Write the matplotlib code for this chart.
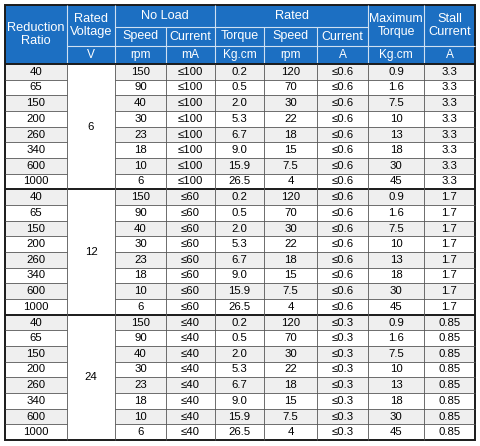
import matplotlib
matplotlib.use("Agg")
import matplotlib.pyplot as plt
from matplotlib.patches import Rectangle

ratios = ["40", "65", "150", "200", "260", "340", "600", "1000"]
voltages = ["6", "12", "24"]
noload_speed = ["150", "90", "40", "30", "23", "18", "10", "6"]
noload_current = {"6": "≤100", "12": "≤60", "24": "≤40"}
rated_torque = ["0.2", "0.5", "2.0", "5.3", "6.7", "9.0", "15.9", "26.5"]
rated_speed = ["120", "70", "30", "22", "18", "15", "7.5", "4"]
rated_current = {"6": "≤0.6", "12": "≤0.6", "24": "≤0.3"}
max_torque = ["0.9", "1.6", "7.5", "10", "13", "18", "30", "45"]
stall_current = {"6": "3.3", "12": "1.7", "24": "0.85"}

W, H = 480, 446
BLUE = "#1c6fc2"
LINE = "#1a1a1a"
cols = [5, 67, 115, 166, 215, 264, 317, 368, 424, 475]
h0, h1, h2, h3 = 5, 27, 46, 64
bottom = 440
rh = (bottom - h3) / 24

fig = plt.figure(figsize=(W / 100, H / 100), dpi=100)
ax = fig.add_axes([0, 0, 1, 1])
ax.set_xlim(0, W)
ax.set_ylim(H, 0)
ax.axis("off")

# header background
ax.add_patch(Rectangle((cols[0], h0), cols[-1] - cols[0], h3 - h0, facecolor=BLUE, edgecolor="none"))


def cell_text(x0, x1, y0, y1, s, color="black", size=8.2):
    ax.text((x0 + x1) / 2, (y0 + y1) / 2, s, ha="center", va="center", color=color,
            fontsize=size, family="Liberation Sans", linespacing=1.15)


def hline(x0, x1, y, c, lw=0.8):
    ax.plot([x0, x1], [y, y], color=c, lw=lw, solid_capstyle="butt")


def vline(x, y0, y1, c, lw=0.8):
    ax.plot([x, x], [y0, y1], color=c, lw=lw, solid_capstyle="butt")


# header texts
wc = "white"
cell_text(cols[0], cols[1], h0, h3, "Reduction\nRatio", wc, 9.2)
cell_text(cols[1], cols[2], h0, h2, "Rated\nVoltage", wc, 9.2)
cell_text(cols[2], cols[4], h0, h1, "No Load", wc, 9.2)
cell_text(cols[4], cols[7], h0, h1, "Rated", wc, 9.2)
cell_text(cols[7], cols[8], h0, h2, "Maximum\nTorque", wc, 8.8)
cell_text(cols[8], cols[9], h0, h2, "Stall\nCurrent", wc, 9.2)
subs = ["Speed", "Current", "Torque", "Speed", "Current"]
for i, s in enumerate(subs):
    cell_text(cols[i + 2], cols[i + 3], h1, h2, s, wc, 9.0)
units = ["V", "rpm", "mA", "Kg.cm", "rpm", "A", "Kg.cm", "A"]
for i, s in enumerate(units):
    cell_text(cols[i + 1], cols[i + 2], h2, h3, s, wc, 8.6)

# header inner lines (white-ish)
hl = "#cfe0f2"
hline(cols[2], cols[7], h1, hl)
hline(cols[1], cols[9], h2, hl)
for i in range(1, 9):
    top = h0 if i in (1, 2, 4, 7, 8) else h1
    vline(cols[i], top, h3, hl)

# data rows
for g, v in enumerate(voltages):
    for r in range(8):
        y0 = h3 + (g * 8 + r) * rh
        y1 = y0 + rh
        bg = "#efefef" if r % 2 == 0 else "white"
        for c in range(9):
            if c == 1:
                continue
            ax.add_patch(Rectangle((cols[c], y0), cols[c + 1] - cols[c], rh, facecolor=bg, edgecolor="none"))
        vals = [ratios[r], None, noload_speed[r], noload_current[v], rated_torque[r],
                rated_speed[r], rated_current[v], max_torque[r], stall_current[v]]
        for c, s in enumerate(vals):
            if s is not None:
                cell_text(cols[c], cols[c + 1], y0, y1, s)
        if r > 0:
            hline(cols[0], cols[1], y0, "#555555", 0.6)
            hline(cols[2], cols[9], y0, "#555555", 0.6)
    gy0 = h3 + g * 8 * rh
    cell_text(cols[1], cols[2], gy0, gy0 + 8 * rh, v)
    hline(cols[0], cols[9], gy0, LINE, 1.4)

for i in range(1, 9):
    vline(cols[i], h3, bottom, "#555555", 0.6)

# outer border
ax.add_patch(Rectangle((cols[0], h0), cols[-1] - cols[0], bottom - h0, facecolor="none",
                       edgecolor=LINE, lw=1.4))

fig.savefig("out.png", dpi=100)
